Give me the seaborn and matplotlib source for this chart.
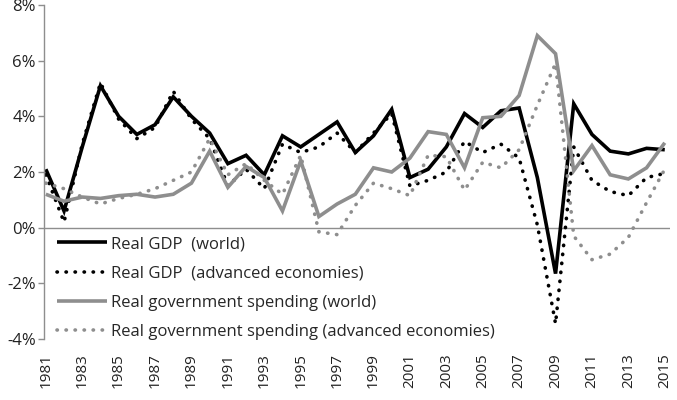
import matplotlib
matplotlib.use("Agg")
import matplotlib.pyplot as plt
import matplotlib.ticker as mticker
import numpy as np
import pandas as pd
import seaborn as sns

years = list(range(1981, 2016))

gdp_world = [2.1, 0.6, 2.9, 5.1, 4.0, 3.35, 3.7, 4.7, 4.0, 3.4, 2.3, 2.6, 1.9, 3.3, 2.9,
             3.35, 3.8, 2.7, 3.3, 4.25, 1.8, 2.1, 2.9, 4.1, 3.6, 4.2, 4.3, 1.8, -1.65,
             4.45, 3.35, 2.75, 2.65, 2.85, 2.8]
gdp_adv = [1.9, 0.2, 3.0, 5.2, 3.9, 3.2, 3.6, 4.9, 3.9, 3.2, 1.5, 2.1, 1.4, 3.0, 2.7,
           2.9, 3.4, 2.7, 3.4, 4.1, 1.5, 1.7, 2.0, 3.1, 2.7, 3.0, 2.5, 0.1, -3.45,
           2.9, 1.7, 1.3, 1.15, 1.8, 1.95]
gov_world = [1.2, 0.95, 1.1, 1.05, 1.15, 1.2, 1.1, 1.2, 1.6, 2.75, 1.45, 2.2, 1.8, 0.6, 2.4,
             0.4, 0.85, 1.2, 2.15, 2.0, 2.5, 3.45, 3.35, 2.15, 3.95, 4.0, 4.75, 6.9, 6.25,
             2.05, 2.95, 1.9, 1.75, 2.15, 3.05]
gov_adv = [1.6, 1.4, 1.1, 0.85, 1.05, 1.2, 1.4, 1.7, 2.0, 3.2, 1.9, 2.3, 1.7, 1.2, 2.6,
           -0.15, -0.25, 0.8, 1.6, 1.4, 1.15, 2.6, 2.55, 1.35, 2.35, 2.15, 2.8, 4.4, 5.9,
           -0.3, -1.15, -0.95, -0.35, 0.9, 2.1]

labels = ["Real GDP  (world)",
          "Real GDP  (advanced economies)",
          "Real government spending (world)",
          "Real government spending (advanced economies)"]
series = [gdp_world, gdp_adv, gov_world, gov_adv]

sns.set_theme(style="white")
plt.rcParams['font.family'] = ['Open Sans', 'DejaVu Sans']

fig = plt.figure(figsize=(6.77, 4.0), dpi=100)
ax = fig.add_axes([0.065, 0.1525, 0.925, 0.835])

black = "#000000"
gray = "#8e8e8e"
colors = [black, black, gray, gray]
dotted = (0, (0.1, 2.4))
styles = ["-", dotted, "-", dotted]

df = pd.DataFrame({"year": years})
for lab, vals, c, ls in zip(labels, series, colors, styles):
    df[lab] = vals
    sns.lineplot(x="year", y=lab, data=df, ax=ax, color=c, linewidth=2.6,
                 label=lab, linestyle=ls, dash_capstyle="round",
                 solid_capstyle="butt", solid_joinstyle="miter")

ax.axhline(0, color="#8e8e8e", linewidth=1.0, zorder=0)
ax.set_xlim(1980.9, 2015.3)
ax.set_ylim(-4, 8)
ax.set_yticks(np.arange(-4, 9, 2))
ax.yaxis.set_major_formatter(mticker.FuncFormatter(lambda v, p: f"{int(v)}%"))
ax.set_xticks(years[::2])
ax.set_xticklabels([str(y) for y in years[::2]], rotation=90)
ax.set_xlabel("")
ax.set_ylabel("")

for s in ["top", "right", "bottom"]:
    ax.spines[s].set_visible(False)
ax.spines["left"].set_color("#8e8e8e")
ax.spines["left"].set_linewidth(1.0)
ax.tick_params(axis="y", which="both", left=True, length=4, width=1.0,
               color="#8e8e8e", labelsize=12, pad=2, labelcolor="#222222")
ax.tick_params(axis="x", bottom=False, labelsize=11, pad=4, labelcolor="#222222")

leg = ax.legend(loc="upper left", bbox_to_anchor=(0.021, 0.308), frameon=False,
                fontsize=12, handlelength=3.0, handletextpad=0.25,
                labelspacing=0.8, borderaxespad=0.0, borderpad=0.0)

fig.savefig("out.png", dpi=100)
